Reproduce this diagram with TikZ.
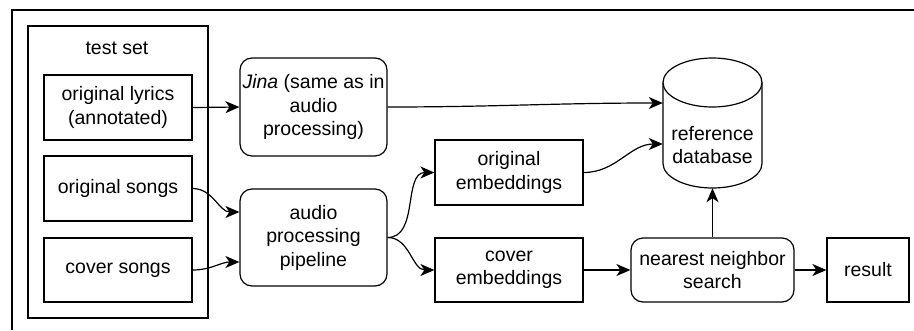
\documentclass[tikz,border=0pt]{standalone}
\usepackage{fontspec}
\setmainfont{Liberation Sans}
\usepackage{tikz}
\usetikzlibrary{shapes,arrows.meta}
\usetikzlibrary{positioning}
\tikzstyle{block} = [rectangle, draw, line width=1.2pt, align=center,
    inner sep=0pt, font=\fontsize{19.5}{23.5}\selectfont]
\tikzstyle{rblock} = [block, rounded corners=12pt]
\tikzstyle{line} = [draw, line width=1.2pt, -{Stealth[length=14pt,width=12pt,inset=4pt]}]

\begin{document}
\begin{tikzpicture}[x=1pt,y=-1pt]
    \useasboundingbox (0,0) rectangle (914,330);
    % Frame
    \draw[line width=1.2pt] (914,10) -- (12,10) -- (12,330);
    % Place nodes
    \node [block, minimum width=180pt, minimum height=292pt] (testset) at (118,172) {};
    \node [font=\fontsize{19.5}{23.5}\selectfont, inner sep=0pt] (testlabel) at (117,48) {test set};
    \node [block, minimum width=148pt, minimum height=65pt] (lyrics) at (118,107.5) {original lyrics\\(annotated)};
    \node [block, minimum width=148pt, minimum height=65pt] (osongs) at (118,188.5) {original songs};
    \node [block, minimum width=148pt, minimum height=64pt] (csongs) at (118,270) {cover songs};
    \node [rblock, minimum width=147pt, minimum height=98pt] (jina) at (313.5,107) {\textit{Jina} (same as in\\audio\\processing)};
    \node [rblock, minimum width=147pt, minimum height=97pt] (pipe) at (313.5,237.5) {audio\\processing\\pipeline};
    \node [block, minimum width=148pt, minimum height=65pt] (oemb) at (509,172.5) {original\\embeddings};
    \node [block, minimum width=148pt, minimum height=64pt] (cemb) at (509,270) {cover\\embeddings};
    \node [inner sep=0pt, minimum width=99pt, minimum height=130pt] (db) at (712.5,123) {};
    \node [font=\fontsize{19.5}{23.5}\selectfont, align=center, inner sep=0pt] (dbtext) at (712.5,145) {reference\\database};
    \node [rblock, minimum width=163pt, minimum height=64pt] (nns) at (712.5,270) {nearest neighbor\\search};
    \node [block, minimum width=82pt, minimum height=64pt] (result) at (868,270) {result};
    % Cylinder outline
    \draw[line width=1.2pt] (663,82.5) -- (663,163.5)
        .. controls (663,177) and (685.2,188) .. (712.5,188)
        .. controls (739.8,188) and (762,177) .. (762,163.5) -- (762,82.5);
    \draw[line width=1.2pt] (712.5,82.5) ellipse [x radius=49.5, y radius=24.5];
    % Draw edges
    \path [line] (lyrics.east) -- (jina.west);
    \path [line] (jina.east) to[out=0,in=180] (db.west |- 0,103);
    \path [line] (osongs.east) to[out=0,in=180] ([yshift=25.5pt]pipe.west);
    \path [line] (csongs.east) to[out=0,in=180] ([yshift=-24.5pt]pipe.west);
    \path [line] (pipe.east) to[out=0,in=180] (oemb.west);
    \path [line] (pipe.east) to[out=0,in=180] (cemb.west);
    \path [line] (oemb.east) to[out=0,in=180] (db.west |- 0,144);
    \path [line] (cemb.east) -- (nns.west);
    \path [line] (nns.north) -- (db.south);
    \path [line] (nns.east) -- (result.west);
\end{tikzpicture}
\end{document}
